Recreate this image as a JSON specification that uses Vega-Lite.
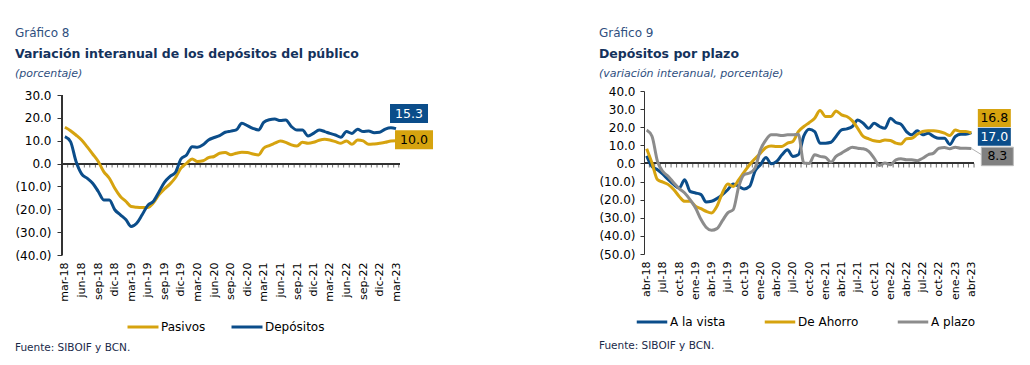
{
  "$schema": "https://vega.github.io/schema/vega-lite/v6.json",
  "background": "white",
  "padding": {"left": 14, "top": 27, "right": 0, "bottom": 0},
  "config": {"view": {"stroke": null}, "font": "DejaVu Sans", "axis": {"labelOverlap": false}, "axisY": {"labelOverlap": false}},
  "spacing": 164,
  "resolve": {"scale": {"color": "independent"}, "legend": {"color": "independent"}},
  "hconcat": [
    {
      "title": {"text": "Fuente: SIBOIF y BCN.", "orient": "bottom", "anchor": "start", "frame": "bounds", "font": "DejaVu Sans", "fontSize": 10.5, "fontWeight": "normal", "color": "#1a2a4a", "offset": 10},
      "vconcat": [
        {
          "title": {"text": "Gráfico 8", "anchor": "start", "frame": "bounds", "font": "DejaVu Sans", "fontSize": 12, "fontWeight": "normal", "color": "#2f4f80", "offset": 8},
          "vconcat": [
            {
              "width": 338,
              "height": 164,
              "title": {"text": "Variación interanual de los depósitos del público", "subtitle": "(porcentaje)", "anchor": "start", "frame": "bounds", "font": "DejaVu Sans", "fontSize": 12.5, "fontWeight": "bold", "color": "#14325c", "subtitleFont": "DejaVu Sans", "subtitleFontStyle": "italic", "subtitleFontSize": 11, "subtitleColor": "#2f4f80", "subtitlePadding": 7, "offset": 10.5},
              "data": {
                "format": {"parse": {"fecha": "utc:'%Y-%m-%d'"}},
                "values": [
                  {"fecha": "2018-03-01", "serie": "Pasivos", "valor": 15.9},
                  {"fecha": "2018-04-01", "serie": "Pasivos", "valor": 14.4},
                  {"fecha": "2018-05-01", "serie": "Pasivos", "valor": 12.5},
                  {"fecha": "2018-06-01", "serie": "Pasivos", "valor": 10.3},
                  {"fecha": "2018-07-01", "serie": "Pasivos", "valor": 7.4},
                  {"fecha": "2018-08-01", "serie": "Pasivos", "valor": 4.2},
                  {"fecha": "2018-09-01", "serie": "Pasivos", "valor": 0.9},
                  {"fecha": "2018-10-01", "serie": "Pasivos", "valor": -3.5},
                  {"fecha": "2018-11-01", "serie": "Pasivos", "valor": -6.4},
                  {"fecha": "2018-12-01", "serie": "Pasivos", "valor": -10.8},
                  {"fecha": "2019-01-01", "serie": "Pasivos", "valor": -14.4},
                  {"fecha": "2019-02-01", "serie": "Pasivos", "valor": -16.6},
                  {"fecha": "2019-03-01", "serie": "Pasivos", "valor": -18.8},
                  {"fecha": "2019-04-01", "serie": "Pasivos", "valor": -19.1},
                  {"fecha": "2019-05-01", "serie": "Pasivos", "valor": -19.2},
                  {"fecha": "2019-06-01", "serie": "Pasivos", "valor": -19.2},
                  {"fecha": "2019-07-01", "serie": "Pasivos", "valor": -17.3},
                  {"fecha": "2019-08-01", "serie": "Pasivos", "valor": -13.7},
                  {"fecha": "2019-09-01", "serie": "Pasivos", "valor": -11.1},
                  {"fecha": "2019-10-01", "serie": "Pasivos", "valor": -9.0},
                  {"fecha": "2019-11-01", "serie": "Pasivos", "valor": -6.1},
                  {"fecha": "2019-12-01", "serie": "Pasivos", "valor": -2.0},
                  {"fecha": "2020-01-01", "serie": "Pasivos", "valor": 0.1},
                  {"fecha": "2020-02-01", "serie": "Pasivos", "valor": 2.0},
                  {"fecha": "2020-03-01", "serie": "Pasivos", "valor": 0.9},
                  {"fecha": "2020-04-01", "serie": "Pasivos", "valor": 1.2},
                  {"fecha": "2020-05-01", "serie": "Pasivos", "valor": 2.6},
                  {"fecha": "2020-06-01", "serie": "Pasivos", "valor": 3.1},
                  {"fecha": "2020-07-01", "serie": "Pasivos", "valor": 4.5},
                  {"fecha": "2020-08-01", "serie": "Pasivos", "valor": 4.8},
                  {"fecha": "2020-09-01", "serie": "Pasivos", "valor": 3.9},
                  {"fecha": "2020-10-01", "serie": "Pasivos", "valor": 4.5},
                  {"fecha": "2020-11-01", "serie": "Pasivos", "valor": 4.9},
                  {"fecha": "2020-12-01", "serie": "Pasivos", "valor": 4.8},
                  {"fecha": "2021-01-01", "serie": "Pasivos", "valor": 4.2},
                  {"fecha": "2021-02-01", "serie": "Pasivos", "valor": 3.8},
                  {"fecha": "2021-03-01", "serie": "Pasivos", "valor": 6.7},
                  {"fecha": "2021-04-01", "serie": "Pasivos", "valor": 7.9},
                  {"fecha": "2021-05-01", "serie": "Pasivos", "valor": 8.9},
                  {"fecha": "2021-06-01", "serie": "Pasivos", "valor": 9.9},
                  {"fecha": "2021-07-01", "serie": "Pasivos", "valor": 9.3},
                  {"fecha": "2021-08-01", "serie": "Pasivos", "valor": 8.2},
                  {"fecha": "2021-09-01", "serie": "Pasivos", "valor": 7.7},
                  {"fecha": "2021-10-01", "serie": "Pasivos", "valor": 9.3},
                  {"fecha": "2021-11-01", "serie": "Pasivos", "valor": 8.9},
                  {"fecha": "2021-12-01", "serie": "Pasivos", "valor": 9.3},
                  {"fecha": "2022-01-01", "serie": "Pasivos", "valor": 10.2},
                  {"fecha": "2022-02-01", "serie": "Pasivos", "valor": 10.6},
                  {"fecha": "2022-03-01", "serie": "Pasivos", "valor": 10.3},
                  {"fecha": "2022-04-01", "serie": "Pasivos", "valor": 9.6},
                  {"fecha": "2022-05-01", "serie": "Pasivos", "valor": 8.9},
                  {"fecha": "2022-06-01", "serie": "Pasivos", "valor": 9.9},
                  {"fecha": "2022-07-01", "serie": "Pasivos", "valor": 8.4},
                  {"fecha": "2022-08-01", "serie": "Pasivos", "valor": 10.3},
                  {"fecha": "2022-09-01", "serie": "Pasivos", "valor": 9.9},
                  {"fecha": "2022-10-01", "serie": "Pasivos", "valor": 8.4},
                  {"fecha": "2022-11-01", "serie": "Pasivos", "valor": 8.6},
                  {"fecha": "2022-12-01", "serie": "Pasivos", "valor": 8.9},
                  {"fecha": "2023-01-01", "serie": "Pasivos", "valor": 9.3},
                  {"fecha": "2023-02-01", "serie": "Pasivos", "valor": 9.9},
                  {"fecha": "2023-03-01", "serie": "Pasivos", "valor": 10.0},
                  {"fecha": "2018-03-01", "serie": "Depósitos", "valor": 11.8},
                  {"fecha": "2018-04-01", "serie": "Depósitos", "valor": 9.6},
                  {"fecha": "2018-05-01", "serie": "Depósitos", "valor": 1.0},
                  {"fecha": "2018-06-01", "serie": "Depósitos", "valor": -4.5},
                  {"fecha": "2018-07-01", "serie": "Depósitos", "valor": -6.4},
                  {"fecha": "2018-08-01", "serie": "Depósitos", "valor": -8.6},
                  {"fecha": "2018-09-01", "serie": "Depósitos", "valor": -12.2},
                  {"fecha": "2018-10-01", "serie": "Depósitos", "valor": -15.9},
                  {"fecha": "2018-11-01", "serie": "Depósitos", "valor": -15.9},
                  {"fecha": "2018-12-01", "serie": "Depósitos", "valor": -20.2},
                  {"fecha": "2019-01-01", "serie": "Depósitos", "valor": -22.4},
                  {"fecha": "2019-02-01", "serie": "Depósitos", "valor": -24.6},
                  {"fecha": "2019-03-01", "serie": "Depósitos", "valor": -27.5},
                  {"fecha": "2019-04-01", "serie": "Depósitos", "valor": -26.1},
                  {"fecha": "2019-05-01", "serie": "Depósitos", "valor": -22.4},
                  {"fecha": "2019-06-01", "serie": "Depósitos", "valor": -18.3},
                  {"fecha": "2019-07-01", "serie": "Depósitos", "valor": -16.6},
                  {"fecha": "2019-08-01", "serie": "Depósitos", "valor": -12.5},
                  {"fecha": "2019-09-01", "serie": "Depósitos", "valor": -8.2},
                  {"fecha": "2019-10-01", "serie": "Depósitos", "valor": -5.7},
                  {"fecha": "2019-11-01", "serie": "Depósitos", "valor": -3.8},
                  {"fecha": "2019-12-01", "serie": "Depósitos", "valor": 2.0},
                  {"fecha": "2020-01-01", "serie": "Depósitos", "valor": 3.8},
                  {"fecha": "2020-02-01", "serie": "Depósitos", "valor": 7.4},
                  {"fecha": "2020-03-01", "serie": "Depósitos", "valor": 7.1},
                  {"fecha": "2020-04-01", "serie": "Depósitos", "valor": 8.2},
                  {"fecha": "2020-05-01", "serie": "Depósitos", "valor": 10.3},
                  {"fecha": "2020-06-01", "serie": "Depósitos", "valor": 11.4},
                  {"fecha": "2020-07-01", "serie": "Depósitos", "valor": 12.2},
                  {"fecha": "2020-08-01", "serie": "Depósitos", "valor": 13.7},
                  {"fecha": "2020-09-01", "serie": "Depósitos", "valor": 14.2},
                  {"fecha": "2020-10-01", "serie": "Depósitos", "valor": 14.7},
                  {"fecha": "2020-11-01", "serie": "Depósitos", "valor": 17.6},
                  {"fecha": "2020-12-01", "serie": "Depósitos", "valor": 16.6},
                  {"fecha": "2021-01-01", "serie": "Depósitos", "valor": 15.4},
                  {"fecha": "2021-02-01", "serie": "Depósitos", "valor": 14.7},
                  {"fecha": "2021-03-01", "serie": "Depósitos", "valor": 18.0},
                  {"fecha": "2021-04-01", "serie": "Depósitos", "valor": 19.2},
                  {"fecha": "2021-05-01", "serie": "Depósitos", "valor": 19.5},
                  {"fecha": "2021-06-01", "serie": "Depósitos", "valor": 18.8},
                  {"fecha": "2021-07-01", "serie": "Depósitos", "valor": 19.1},
                  {"fecha": "2021-08-01", "serie": "Depósitos", "valor": 16.2},
                  {"fecha": "2021-09-01", "serie": "Depósitos", "valor": 14.7},
                  {"fecha": "2021-10-01", "serie": "Depósitos", "valor": 14.7},
                  {"fecha": "2021-11-01", "serie": "Depósitos", "valor": 12.1},
                  {"fecha": "2021-12-01", "serie": "Depósitos", "valor": 13.2},
                  {"fecha": "2022-01-01", "serie": "Depósitos", "valor": 14.7},
                  {"fecha": "2022-02-01", "serie": "Depósitos", "valor": 14.0},
                  {"fecha": "2022-03-01", "serie": "Depósitos", "valor": 13.2},
                  {"fecha": "2022-04-01", "serie": "Depósitos", "valor": 12.5},
                  {"fecha": "2022-05-01", "serie": "Depósitos", "valor": 11.5},
                  {"fecha": "2022-06-01", "serie": "Depósitos", "valor": 14.0},
                  {"fecha": "2022-07-01", "serie": "Depósitos", "valor": 13.2},
                  {"fecha": "2022-08-01", "serie": "Depósitos", "valor": 15.0},
                  {"fecha": "2022-09-01", "serie": "Depósitos", "valor": 14.0},
                  {"fecha": "2022-10-01", "serie": "Depósitos", "valor": 14.3},
                  {"fecha": "2022-11-01", "serie": "Depósitos", "valor": 13.5},
                  {"fecha": "2022-12-01", "serie": "Depósitos", "valor": 13.7},
                  {"fecha": "2023-01-01", "serie": "Depósitos", "valor": 15.1},
                  {"fecha": "2023-02-01", "serie": "Depósitos", "valor": 15.7},
                  {"fecha": "2023-03-01", "serie": "Depósitos", "valor": 15.3}
                ]
              },
              "layer": [
                {
                  "mark": {"type": "rule", "color": "#333333", "strokeWidth": 1},
                  "encoding": {"y": {"datum": 0, "type": "quantitative", "scale": {"domain": [-40, 31.75], "nice": false},
                    "axis": {"title": null, "values": [-40, -30, -20, -10, 0, 10, 20, 30], "tickCount": 20, "grid": false, "domain": false, "labelOverlap": false, "labelFlush": false, "tickColor": "#333333", "tickSize": 5, "labelPadding": 6, "labelFont": "DejaVu Sans", "labelFontSize": 12, "labelColor": "#000000",
                      "labelExpr": "datum.value < 0 ? '(' + format(-datum.value, '.1f') + ')' : format(datum.value, '.1f')"}}}
                },
                {
                  "mark": {"type": "rule", "color": "#333333", "strokeWidth": 1},
                  "encoding": {
                    "x": {"datum": {"year": 2018, "month": 2, "date": 13, "utc": true}, "type": "temporal", "scale": {"type": "utc", "domain": [{"year": 2018, "month": 2, "date": 13, "utc": true}, {"year": 2023, "month": 3, "date": 23, "utc": true}]}},
                    "y": {"datum": -40, "type": "quantitative"},
                    "y2": {"datum": 30}
                  }
                },
                {
                  "transform": [{"filter": "datum.serie == 'Pasivos'"}],
                  "mark": {"type": "tick", "orient": "vertical", "size": 4, "thickness": 1, "color": "#333333", "yOffset": 2, "xOffset": 2.75},
                  "encoding": {
                    "x": {"field": "fecha", "type": "temporal", "scale": {"type": "utc", "domain": [{"year": 2018, "month": 2, "date": 13, "utc": true}, {"year": 2023, "month": 3, "date": 23, "utc": true}]}, "axis": {"title": null}},
                    "y": {"datum": 0, "type": "quantitative", "scale": {"domain": [-40, 31.75], "nice": false},
                      "axis": {"title": null, "values": [-40, -30, -20, -10, 0, 10, 20, 30], "tickCount": 20, "grid": false, "domain": false, "labelOverlap": false, "labelFlush": false, "tickColor": "#333333", "tickSize": 5, "labelPadding": 6, "labelFont": "DejaVu Sans", "labelFontSize": 12, "labelColor": "#000000",
                        "labelExpr": "datum.value < 0 ? '(' + format(-datum.value, '.1f') + ')' : format(datum.value, '.1f')"}}
                  }
                },
                {
                  "mark": {"type": "line", "strokeWidth": 3, "interpolate": "monotone"},
                  "encoding": {
                    "x": {"field": "fecha", "type": "temporal", "scale": {"type": "utc", "domain": [{"year": 2018, "month": 2, "date": 13, "utc": true}, {"year": 2023, "month": 3, "date": 23, "utc": true}]},
                      "axis": {"title": null, "orient": "bottom", "ticks": false, "domain": false, "grid": false, "labelAngle": -90, "labelPadding": 7, "labelFont": "DejaVu Sans", "labelFontSize": 11, "labelColor": "#000000", "labelOverlap": false, "labelBound": false, "labelFlush": false, "tickCount": {"interval": "month", "step": 1},
                        "labelExpr": "utcmonth(datum.value) % 3 == 2 ? ['ene','feb','mar','abr','may','jun','jul','ago','sep','oct','nov','dic'][utcmonth(datum.value)] + '-' + utcFormat(datum.value, '%y') : ''"}},
                    "y": {"field": "valor", "type": "quantitative", "scale": {"domain": [-40, 31.75], "nice": false},
                      "axis": {"title": null, "values": [-40, -30, -20, -10, 0, 10, 20, 30], "tickCount": 20, "grid": false, "domain": false, "labelOverlap": false, "labelFlush": false, "tickColor": "#333333", "tickSize": 5, "labelPadding": 6, "labelFont": "DejaVu Sans", "labelFontSize": 12, "labelColor": "#000000",
                        "labelExpr": "datum.value < 0 ? '(' + format(-datum.value, '.1f') + ')' : format(datum.value, '.1f')"}},
                    "color": {"field": "serie", "type": "nominal", "scale": {"domain": ["Pasivos", "Depósitos"], "range": ["#d6a30f", "#0b4d8a"]},
                      "legend": {"title": null, "orient": "none", "legendX": 64, "legendY": 219, "direction": "horizontal", "gridAlign": "none", "symbolType": "stroke", "symbolSize": 960, "symbolStrokeWidth": 3, "labelFont": "DejaVu Sans", "labelFontSize": 12, "labelColor": "#000000", "labelOffset": 1, "columnPadding": 19}}
                  }
                },
                {
                  "transform": [{"filter": "datum.serie == 'Depósitos' && utcyear(datum.fecha) == 2023 && utcmonth(datum.fecha) == 2"}],
                  "mark": {"type": "point", "shape": "M-1,-0.5L1,-0.5L1,0.5L-1,0.5Z", "size": 1444, "filled": true, "fill": "#0b4d8a", "opacity": 1, "strokeWidth": 0, "xOffset": 13, "yOffset": -15},
                  "encoding": {
                    "x": {"field": "fecha", "type": "temporal", "scale": {"type": "utc"}},
                    "y": {"field": "valor", "type": "quantitative"}
                  }
                },
                {
                  "transform": [{"filter": "datum.serie == 'Depósitos' && utcyear(datum.fecha) == 2023 && utcmonth(datum.fecha) == 2"}],
                  "mark": {"type": "text", "font": "DejaVu Sans", "fontSize": 12.5, "color": "#ffffff", "align": "center", "baseline": "middle", "xOffset": 13, "yOffset": -15},
                  "encoding": {
                    "x": {"field": "fecha", "type": "temporal", "scale": {"type": "utc"}},
                    "y": {"field": "valor", "type": "quantitative"},
                    "text": {"field": "valor", "type": "quantitative", "format": ".1f"}
                  }
                },
                {
                  "transform": [{"filter": "datum.serie == 'Pasivos' && utcyear(datum.fecha) == 2023 && utcmonth(datum.fecha) == 2"}],
                  "mark": {"type": "point", "shape": "M-1,-0.5L1,-0.5L1,0.5L-1,0.5Z", "size": 1444, "filled": true, "fill": "#d6a30f", "opacity": 1, "strokeWidth": 0, "xOffset": 18, "yOffset": -1},
                  "encoding": {
                    "x": {"field": "fecha", "type": "temporal", "scale": {"type": "utc"}},
                    "y": {"field": "valor", "type": "quantitative"}
                  }
                },
                {
                  "transform": [{"filter": "datum.serie == 'Pasivos' && utcyear(datum.fecha) == 2023 && utcmonth(datum.fecha) == 2"}],
                  "mark": {"type": "text", "font": "DejaVu Sans", "fontSize": 12.5, "color": "#000000", "align": "center", "baseline": "middle", "xOffset": 18, "yOffset": -1},
                  "encoding": {
                    "x": {"field": "fecha", "type": "temporal", "scale": {"type": "utc"}},
                    "y": {"field": "valor", "type": "quantitative"},
                    "text": {"field": "valor", "type": "quantitative", "format": ".1f"}
                  }
                }
              ]
            }
          ]
        }
      ]
    },
    {
      "title": {"text": "Fuente: SIBOIF y BCN.", "orient": "bottom", "anchor": "start", "frame": "bounds", "font": "DejaVu Sans", "fontSize": 10.5, "fontWeight": "normal", "color": "#1a2a4a", "offset": 13},
      "vconcat": [
        {
          "title": {"text": "Gráfico 9", "anchor": "start", "frame": "bounds", "font": "DejaVu Sans", "fontSize": 12, "fontWeight": "normal", "color": "#2f4f80", "offset": 8},
          "vconcat": [
            {
              "width": 330,
              "height": 163,
              "title": {"text": "Depósitos por plazo", "subtitle": "(variación interanual, porcentaje)", "anchor": "start", "frame": "bounds", "font": "DejaVu Sans", "fontSize": 12.5, "fontWeight": "bold", "color": "#14325c", "subtitleFont": "DejaVu Sans", "subtitleFontStyle": "italic", "subtitleFontSize": 11, "subtitleColor": "#2f4f80", "subtitlePadding": 7, "offset": 6.5},
              "data": {
                "format": {"parse": {"fecha": "utc:'%Y-%m-%d'"}},
                "values": [
                  {"fecha": "2018-04-01", "serie": "A la vista", "valor": 4.2},
                  {"fecha": "2018-05-01", "serie": "A la vista", "valor": -1.7},
                  {"fecha": "2018-06-01", "serie": "A la vista", "valor": -3.5},
                  {"fecha": "2018-07-01", "serie": "A la vista", "valor": -5.9},
                  {"fecha": "2018-08-01", "serie": "A la vista", "valor": -9.0},
                  {"fecha": "2018-09-01", "serie": "A la vista", "valor": -11.7},
                  {"fecha": "2018-10-01", "serie": "A la vista", "valor": -13.6},
                  {"fecha": "2018-11-01", "serie": "A la vista", "valor": -9.0},
                  {"fecha": "2018-12-01", "serie": "A la vista", "valor": -15.4},
                  {"fecha": "2019-01-01", "serie": "A la vista", "valor": -16.3},
                  {"fecha": "2019-02-01", "serie": "A la vista", "valor": -17.2},
                  {"fecha": "2019-03-01", "serie": "A la vista", "valor": -21.3},
                  {"fecha": "2019-04-01", "serie": "A la vista", "valor": -20.9},
                  {"fecha": "2019-05-01", "serie": "A la vista", "valor": -19.4},
                  {"fecha": "2019-06-01", "serie": "A la vista", "valor": -17.2},
                  {"fecha": "2019-07-01", "serie": "A la vista", "valor": -14.5},
                  {"fecha": "2019-08-01", "serie": "A la vista", "valor": -11.4},
                  {"fecha": "2019-09-01", "serie": "A la vista", "valor": -12.7},
                  {"fecha": "2019-10-01", "serie": "A la vista", "valor": -14.1},
                  {"fecha": "2019-11-01", "serie": "A la vista", "valor": -12.7},
                  {"fecha": "2019-12-01", "serie": "A la vista", "valor": -4.4},
                  {"fecha": "2020-01-01", "serie": "A la vista", "valor": -0.7},
                  {"fecha": "2020-02-01", "serie": "A la vista", "valor": 3.3},
                  {"fecha": "2020-03-01", "serie": "A la vista", "valor": -0.2},
                  {"fecha": "2020-04-01", "serie": "A la vista", "valor": 1.1},
                  {"fecha": "2020-05-01", "serie": "A la vista", "valor": 4.8},
                  {"fecha": "2020-06-01", "serie": "A la vista", "valor": 7.5},
                  {"fecha": "2020-07-01", "serie": "A la vista", "valor": 3.9},
                  {"fecha": "2020-08-01", "serie": "A la vista", "valor": 4.8},
                  {"fecha": "2020-09-01", "serie": "A la vista", "valor": 15.2},
                  {"fecha": "2020-10-01", "serie": "A la vista", "valor": 18.9},
                  {"fecha": "2020-11-01", "serie": "A la vista", "valor": 17.6},
                  {"fecha": "2020-12-01", "serie": "A la vista", "valor": 11.2},
                  {"fecha": "2021-01-01", "serie": "A la vista", "valor": 11.2},
                  {"fecha": "2021-02-01", "serie": "A la vista", "valor": 11.7},
                  {"fecha": "2021-03-01", "serie": "A la vista", "valor": 14.9},
                  {"fecha": "2021-04-01", "serie": "A la vista", "valor": 18.5},
                  {"fecha": "2021-05-01", "serie": "A la vista", "valor": 19.1},
                  {"fecha": "2021-06-01", "serie": "A la vista", "valor": 20.4},
                  {"fecha": "2021-07-01", "serie": "A la vista", "valor": 24.0},
                  {"fecha": "2021-08-01", "serie": "A la vista", "valor": 22.2},
                  {"fecha": "2021-09-01", "serie": "A la vista", "valor": 19.4},
                  {"fecha": "2021-10-01", "serie": "A la vista", "valor": 22.2},
                  {"fecha": "2021-11-01", "serie": "A la vista", "valor": 20.4},
                  {"fecha": "2021-12-01", "serie": "A la vista", "valor": 19.4},
                  {"fecha": "2022-01-01", "serie": "A la vista", "valor": 25.0},
                  {"fecha": "2022-02-01", "serie": "A la vista", "valor": 22.6},
                  {"fecha": "2022-03-01", "serie": "A la vista", "valor": 21.7},
                  {"fecha": "2022-04-01", "serie": "A la vista", "valor": 17.6},
                  {"fecha": "2022-05-01", "serie": "A la vista", "valor": 15.8},
                  {"fecha": "2022-06-01", "serie": "A la vista", "valor": 18.0},
                  {"fecha": "2022-07-01", "serie": "A la vista", "valor": 15.8},
                  {"fecha": "2022-08-01", "serie": "A la vista", "valor": 16.7},
                  {"fecha": "2022-09-01", "serie": "A la vista", "valor": 14.9},
                  {"fecha": "2022-10-01", "serie": "A la vista", "valor": 13.9},
                  {"fecha": "2022-11-01", "serie": "A la vista", "valor": 13.9},
                  {"fecha": "2022-12-01", "serie": "A la vista", "valor": 10.5},
                  {"fecha": "2023-01-01", "serie": "A la vista", "valor": 14.9},
                  {"fecha": "2023-02-01", "serie": "A la vista", "valor": 16.1},
                  {"fecha": "2023-03-01", "serie": "A la vista", "valor": 16.1},
                  {"fecha": "2023-04-01", "serie": "A la vista", "valor": 17.0},
                  {"fecha": "2018-04-01", "serie": "De Ahorro", "valor": 8.1},
                  {"fecha": "2018-05-01", "serie": "De Ahorro", "valor": 0.2},
                  {"fecha": "2018-06-01", "serie": "De Ahorro", "valor": -9.0},
                  {"fecha": "2018-07-01", "serie": "De Ahorro", "valor": -10.3},
                  {"fecha": "2018-08-01", "serie": "De Ahorro", "valor": -11.7},
                  {"fecha": "2018-09-01", "serie": "De Ahorro", "valor": -14.5},
                  {"fecha": "2018-10-01", "serie": "De Ahorro", "valor": -18.2},
                  {"fecha": "2018-11-01", "serie": "De Ahorro", "valor": -20.9},
                  {"fecha": "2018-12-01", "serie": "De Ahorro", "valor": -20.9},
                  {"fecha": "2019-01-01", "serie": "De Ahorro", "valor": -23.7},
                  {"fecha": "2019-02-01", "serie": "De Ahorro", "valor": -25.0},
                  {"fecha": "2019-03-01", "serie": "De Ahorro", "valor": -26.4},
                  {"fecha": "2019-04-01", "serie": "De Ahorro", "valor": -27.3},
                  {"fecha": "2019-05-01", "serie": "De Ahorro", "valor": -23.7},
                  {"fecha": "2019-06-01", "serie": "De Ahorro", "valor": -16.3},
                  {"fecha": "2019-07-01", "serie": "De Ahorro", "valor": -11.4},
                  {"fecha": "2019-08-01", "serie": "De Ahorro", "valor": -12.7},
                  {"fecha": "2019-09-01", "serie": "De Ahorro", "valor": -9.0},
                  {"fecha": "2019-10-01", "serie": "De Ahorro", "valor": -4.8},
                  {"fecha": "2019-11-01", "serie": "De Ahorro", "valor": -0.7},
                  {"fecha": "2019-12-01", "serie": "De Ahorro", "valor": 2.6},
                  {"fecha": "2020-01-01", "serie": "De Ahorro", "valor": 5.7},
                  {"fecha": "2020-02-01", "serie": "De Ahorro", "valor": 8.8},
                  {"fecha": "2020-03-01", "serie": "De Ahorro", "valor": 9.7},
                  {"fecha": "2020-04-01", "serie": "De Ahorro", "valor": 9.4},
                  {"fecha": "2020-05-01", "serie": "De Ahorro", "valor": 9.4},
                  {"fecha": "2020-06-01", "serie": "De Ahorro", "valor": 11.2},
                  {"fecha": "2020-07-01", "serie": "De Ahorro", "valor": 12.1},
                  {"fecha": "2020-08-01", "serie": "De Ahorro", "valor": 17.6},
                  {"fecha": "2020-09-01", "serie": "De Ahorro", "valor": 20.4},
                  {"fecha": "2020-10-01", "serie": "De Ahorro", "valor": 22.5},
                  {"fecha": "2020-11-01", "serie": "De Ahorro", "valor": 25.0},
                  {"fecha": "2020-12-01", "serie": "De Ahorro", "valor": 29.2},
                  {"fecha": "2021-01-01", "serie": "De Ahorro", "valor": 25.9},
                  {"fecha": "2021-02-01", "serie": "De Ahorro", "valor": 25.9},
                  {"fecha": "2021-03-01", "serie": "De Ahorro", "valor": 29.0},
                  {"fecha": "2021-04-01", "serie": "De Ahorro", "valor": 26.8},
                  {"fecha": "2021-05-01", "serie": "De Ahorro", "valor": 25.9},
                  {"fecha": "2021-06-01", "serie": "De Ahorro", "valor": 23.5},
                  {"fecha": "2021-07-01", "serie": "De Ahorro", "valor": 19.4},
                  {"fecha": "2021-08-01", "serie": "De Ahorro", "valor": 14.9},
                  {"fecha": "2021-09-01", "serie": "De Ahorro", "valor": 13.6},
                  {"fecha": "2021-10-01", "serie": "De Ahorro", "valor": 12.5},
                  {"fecha": "2021-11-01", "serie": "De Ahorro", "valor": 12.1},
                  {"fecha": "2021-12-01", "serie": "De Ahorro", "valor": 13.0},
                  {"fecha": "2022-01-01", "serie": "De Ahorro", "valor": 12.7},
                  {"fecha": "2022-02-01", "serie": "De Ahorro", "valor": 11.2},
                  {"fecha": "2022-03-01", "serie": "De Ahorro", "valor": 10.7},
                  {"fecha": "2022-04-01", "serie": "De Ahorro", "valor": 13.6},
                  {"fecha": "2022-05-01", "serie": "De Ahorro", "valor": 13.9},
                  {"fecha": "2022-06-01", "serie": "De Ahorro", "valor": 16.1},
                  {"fecha": "2022-07-01", "serie": "De Ahorro", "valor": 17.6},
                  {"fecha": "2022-08-01", "serie": "De Ahorro", "valor": 18.0},
                  {"fecha": "2022-09-01", "serie": "De Ahorro", "valor": 18.0},
                  {"fecha": "2022-10-01", "serie": "De Ahorro", "valor": 17.6},
                  {"fecha": "2022-11-01", "serie": "De Ahorro", "valor": 16.7},
                  {"fecha": "2022-12-01", "serie": "De Ahorro", "valor": 15.4},
                  {"fecha": "2023-01-01", "serie": "De Ahorro", "valor": 18.5},
                  {"fecha": "2023-02-01", "serie": "De Ahorro", "valor": 17.6},
                  {"fecha": "2023-03-01", "serie": "De Ahorro", "valor": 17.6},
                  {"fecha": "2023-04-01", "serie": "De Ahorro", "valor": 16.8},
                  {"fecha": "2018-04-01", "serie": "A plazo", "valor": 18.5},
                  {"fecha": "2018-05-01", "serie": "A plazo", "valor": 15.0},
                  {"fecha": "2018-06-01", "serie": "A plazo", "valor": 1.1},
                  {"fecha": "2018-07-01", "serie": "A plazo", "valor": -4.4},
                  {"fecha": "2018-08-01", "serie": "A plazo", "valor": -7.2},
                  {"fecha": "2018-09-01", "serie": "A plazo", "valor": -10.8},
                  {"fecha": "2018-10-01", "serie": "A plazo", "valor": -13.9},
                  {"fecha": "2018-11-01", "serie": "A plazo", "valor": -16.3},
                  {"fecha": "2018-12-01", "serie": "A plazo", "valor": -20.0},
                  {"fecha": "2019-01-01", "serie": "A plazo", "valor": -24.6},
                  {"fecha": "2019-02-01", "serie": "A plazo", "valor": -31.0},
                  {"fecha": "2019-03-01", "serie": "A plazo", "valor": -35.2},
                  {"fecha": "2019-04-01", "serie": "A plazo", "valor": -36.9},
                  {"fecha": "2019-05-01", "serie": "A plazo", "valor": -36.0},
                  {"fecha": "2019-06-01", "serie": "A plazo", "valor": -31.6},
                  {"fecha": "2019-07-01", "serie": "A plazo", "valor": -27.3},
                  {"fecha": "2019-08-01", "serie": "A plazo", "valor": -25.5},
                  {"fecha": "2019-09-01", "serie": "A plazo", "valor": -12.7},
                  {"fecha": "2019-10-01", "serie": "A plazo", "valor": -6.2},
                  {"fecha": "2019-11-01", "serie": "A plazo", "valor": -5.3},
                  {"fecha": "2019-12-01", "serie": "A plazo", "valor": -2.6},
                  {"fecha": "2020-01-01", "serie": "A plazo", "valor": 7.5},
                  {"fecha": "2020-02-01", "serie": "A plazo", "valor": 13.0},
                  {"fecha": "2020-03-01", "serie": "A plazo", "valor": 15.8},
                  {"fecha": "2020-04-01", "serie": "A plazo", "valor": 15.8},
                  {"fecha": "2020-05-01", "serie": "A plazo", "valor": 15.4},
                  {"fecha": "2020-06-01", "serie": "A plazo", "valor": 15.8},
                  {"fecha": "2020-07-01", "serie": "A plazo", "valor": 15.8},
                  {"fecha": "2020-08-01", "serie": "A plazo", "valor": 16.1},
                  {"fecha": "2020-09-01", "serie": "A plazo", "valor": 0.2},
                  {"fecha": "2020-10-01", "serie": "A plazo", "valor": 0.0},
                  {"fecha": "2020-11-01", "serie": "A plazo", "valor": 4.8},
                  {"fecha": "2020-12-01", "serie": "A plazo", "valor": 3.9},
                  {"fecha": "2021-01-01", "serie": "A plazo", "valor": 3.3},
                  {"fecha": "2021-02-01", "serie": "A plazo", "valor": 0.7},
                  {"fecha": "2021-03-01", "serie": "A plazo", "valor": 3.9},
                  {"fecha": "2021-04-01", "serie": "A plazo", "valor": 5.7},
                  {"fecha": "2021-05-01", "serie": "A plazo", "valor": 7.5},
                  {"fecha": "2021-06-01", "serie": "A plazo", "valor": 9.0},
                  {"fecha": "2021-07-01", "serie": "A plazo", "valor": 8.4},
                  {"fecha": "2021-08-01", "serie": "A plazo", "valor": 8.1},
                  {"fecha": "2021-09-01", "serie": "A plazo", "valor": 6.6},
                  {"fecha": "2021-10-01", "serie": "A plazo", "valor": 2.9},
                  {"fecha": "2021-11-01", "serie": "A plazo", "valor": -1.1},
                  {"fecha": "2021-12-01", "serie": "A plazo", "valor": 0.2},
                  {"fecha": "2022-01-01", "serie": "A plazo", "valor": -0.7},
                  {"fecha": "2022-02-01", "serie": "A plazo", "valor": 2.0},
                  {"fecha": "2022-03-01", "serie": "A plazo", "valor": 2.6},
                  {"fecha": "2022-04-01", "serie": "A plazo", "valor": 2.0},
                  {"fecha": "2022-05-01", "serie": "A plazo", "valor": 2.0},
                  {"fecha": "2022-06-01", "serie": "A plazo", "valor": 1.5},
                  {"fecha": "2022-07-01", "serie": "A plazo", "valor": 2.9},
                  {"fecha": "2022-08-01", "serie": "A plazo", "valor": 4.8},
                  {"fecha": "2022-09-01", "serie": "A plazo", "valor": 5.7},
                  {"fecha": "2022-10-01", "serie": "A plazo", "valor": 8.4},
                  {"fecha": "2022-11-01", "serie": "A plazo", "valor": 8.8},
                  {"fecha": "2022-12-01", "serie": "A plazo", "valor": 8.1},
                  {"fecha": "2023-01-01", "serie": "A plazo", "valor": 9.0},
                  {"fecha": "2023-02-01", "serie": "A plazo", "valor": 8.4},
                  {"fecha": "2023-03-01", "serie": "A plazo", "valor": 8.4},
                  {"fecha": "2023-04-01", "serie": "A plazo", "valor": 8.3}
                ]
              },
              "layer": [
                {
                  "mark": {"type": "rule", "color": "#333333", "strokeWidth": 1},
                  "encoding": {"y": {"datum": 0, "type": "quantitative", "scale": {"domain": [-50, 40], "nice": false},
                    "axis": {"title": null, "values": [-50, -40, -30, -20, -10, 0, 10, 20, 30, 40], "tickCount": 20, "grid": false, "labelOverlap": false, "labelFlush": false, "domainColor": "#333333", "tickColor": "#333333", "tickSize": 4, "labelPadding": 5, "labelFont": "DejaVu Sans", "labelFontSize": 12, "labelColor": "#000000",
                      "labelExpr": "datum.value < 0 ? '(' + format(-datum.value, '.1f') + ')' : format(datum.value, '.1f')"}}}
                },
                {
                  "transform": [{"filter": "datum.serie == 'A plazo'"}],
                  "mark": {"type": "tick", "orient": "vertical", "size": 4, "thickness": 1, "color": "#333333", "yOffset": 2, "xOffset": 2.7},
                  "encoding": {
                    "x": {"field": "fecha", "type": "temporal", "scale": {"type": "utc", "domain": [{"year": 2018, "month": 3, "date": 17, "utc": true}, {"year": 2023, "month": 4, "date": 16, "utc": true}]}, "axis": {"title": null}},
                    "y": {"datum": 0, "type": "quantitative", "scale": {"domain": [-50, 40], "nice": false},
                      "axis": {"title": null, "values": [-50, -40, -30, -20, -10, 0, 10, 20, 30, 40], "tickCount": 20, "grid": false, "labelOverlap": false, "labelFlush": false, "domainColor": "#333333", "tickColor": "#333333", "tickSize": 4, "labelPadding": 5, "labelFont": "DejaVu Sans", "labelFontSize": 12, "labelColor": "#000000",
                        "labelExpr": "datum.value < 0 ? '(' + format(-datum.value, '.1f') + ')' : format(datum.value, '.1f')"}}
                  }
                },
                {
                  "mark": {"type": "line", "strokeWidth": 3, "interpolate": "monotone"},
                  "encoding": {
                    "x": {"field": "fecha", "type": "temporal", "scale": {"type": "utc", "domain": [{"year": 2018, "month": 3, "date": 17, "utc": true}, {"year": 2023, "month": 4, "date": 16, "utc": true}]},
                      "axis": {"title": null, "orient": "bottom", "ticks": false, "domain": false, "grid": false, "labelAngle": -90, "labelPadding": 7, "labelFont": "DejaVu Sans", "labelFontSize": 11, "labelColor": "#000000", "labelOverlap": false, "labelBound": false, "labelFlush": false, "tickCount": {"interval": "month", "step": 1},
                        "labelExpr": "utcmonth(datum.value) % 3 == 0 ? ['ene','feb','mar','abr','may','jun','jul','ago','sep','oct','nov','dic'][utcmonth(datum.value)] + '-' + utcFormat(datum.value, '%y') : ''"}},
                    "y": {"field": "valor", "type": "quantitative", "scale": {"domain": [-50, 40], "nice": false},
                      "axis": {"title": null, "values": [-50, -40, -30, -20, -10, 0, 10, 20, 30, 40], "tickCount": 20, "grid": false, "labelOverlap": false, "labelFlush": false, "domainColor": "#333333", "tickColor": "#333333", "tickSize": 4, "labelPadding": 5, "labelFont": "DejaVu Sans", "labelFontSize": 12, "labelColor": "#000000",
                        "labelExpr": "datum.value < 0 ? '(' + format(-datum.value, '.1f') + ')' : format(datum.value, '.1f')"}},
                    "color": {"field": "serie", "type": "nominal", "scale": {"domain": ["A la vista", "De Ahorro", "A plazo"], "range": ["#0b4d8a", "#d6a30f", "#8c8c8c"]},
                      "legend": {"title": null, "orient": "none", "legendX": -9, "legendY": 214, "direction": "horizontal", "gridAlign": "none", "symbolType": "stroke", "symbolSize": 930, "symbolStrokeWidth": 3, "labelFont": "DejaVu Sans", "labelFontSize": 12, "labelColor": "#000000", "labelOffset": 1, "columnPadding": 32}}
                  }
                },
                {
                  "transform": [{"filter": "datum.serie == 'A plazo' && utcyear(datum.fecha) == 2023 && utcmonth(datum.fecha) == 3"}],
                  "mark": {"type": "rule", "color": "#b0b0b0", "strokeWidth": 1, "x2Offset": 13, "y2Offset": 8},
                  "encoding": {"x": {"field": "fecha", "type": "temporal", "scale": {"type": "utc"}}, "y": {"field": "valor", "type": "quantitative"}, "x2": {"field": "fecha"}, "y2": {"field": "valor"}}
                },
                {
                  "transform": [{"filter": "datum.serie == 'De Ahorro' && utcyear(datum.fecha) == 2023 && utcmonth(datum.fecha) == 3"}],
                  "mark": {"type": "point", "shape": "M-1,-0.545L1,-0.545L1,0.545L-1,0.545Z", "size": 1089, "filled": true, "fill": "#d6a30f", "opacity": 1, "strokeWidth": 0, "xOffset": 23, "yOffset": -15},
                  "encoding": {"x": {"field": "fecha", "type": "temporal", "scale": {"type": "utc"}}, "y": {"field": "valor", "type": "quantitative"}}
                },
                {
                  "transform": [{"filter": "datum.serie == 'De Ahorro' && utcyear(datum.fecha) == 2023 && utcmonth(datum.fecha) == 3"}],
                  "mark": {"type": "text", "font": "DejaVu Sans", "fontSize": 12.5, "color": "#000000", "align": "center", "baseline": "middle", "xOffset": 23, "yOffset": -15},
                  "encoding": {"x": {"field": "fecha", "type": "temporal", "scale": {"type": "utc"}}, "y": {"field": "valor", "type": "quantitative"}, "text": {"field": "valor", "type": "quantitative", "format": ".1f"}}
                },
                {
                  "transform": [{"filter": "datum.serie == 'A la vista' && utcyear(datum.fecha) == 2023 && utcmonth(datum.fecha) == 3"}],
                  "mark": {"type": "point", "shape": "M-1,-0.545L1,-0.545L1,0.545L-1,0.545Z", "size": 1089, "filled": true, "fill": "#0b4d8a", "opacity": 1, "strokeWidth": 0, "xOffset": 23, "yOffset": 4},
                  "encoding": {"x": {"field": "fecha", "type": "temporal", "scale": {"type": "utc"}}, "y": {"field": "valor", "type": "quantitative"}}
                },
                {
                  "transform": [{"filter": "datum.serie == 'A la vista' && utcyear(datum.fecha) == 2023 && utcmonth(datum.fecha) == 3"}],
                  "mark": {"type": "text", "font": "DejaVu Sans", "fontSize": 12.5, "color": "#ffffff", "align": "center", "baseline": "middle", "xOffset": 23, "yOffset": 4},
                  "encoding": {"x": {"field": "fecha", "type": "temporal", "scale": {"type": "utc"}}, "y": {"field": "valor", "type": "quantitative"}, "text": {"field": "valor", "type": "quantitative", "format": ".1f"}}
                },
                {
                  "transform": [{"filter": "datum.serie == 'A plazo' && utcyear(datum.fecha) == 2023 && utcmonth(datum.fecha) == 3"}],
                  "mark": {"type": "point", "shape": "M-1,-0.58L1,-0.58L1,0.58L-1,0.58Z", "size": 1024, "filled": true, "fill": "#808080", "opacity": 1, "stroke": "#bbbbbb", "strokeWidth": 1, "xOffset": 26, "yOffset": 8},
                  "encoding": {"x": {"field": "fecha", "type": "temporal", "scale": {"type": "utc"}}, "y": {"field": "valor", "type": "quantitative"}}
                },
                {
                  "transform": [{"filter": "datum.serie == 'A plazo' && utcyear(datum.fecha) == 2023 && utcmonth(datum.fecha) == 3"}],
                  "mark": {"type": "text", "font": "DejaVu Sans", "fontSize": 12.5, "color": "#000000", "align": "center", "baseline": "middle", "xOffset": 26, "yOffset": 8},
                  "encoding": {"x": {"field": "fecha", "type": "temporal", "scale": {"type": "utc"}}, "y": {"field": "valor", "type": "quantitative"}, "text": {"field": "valor", "type": "quantitative", "format": ".1f"}}
                }
              ]
            }
          ]
        }
      ]
    }
  ]
}
